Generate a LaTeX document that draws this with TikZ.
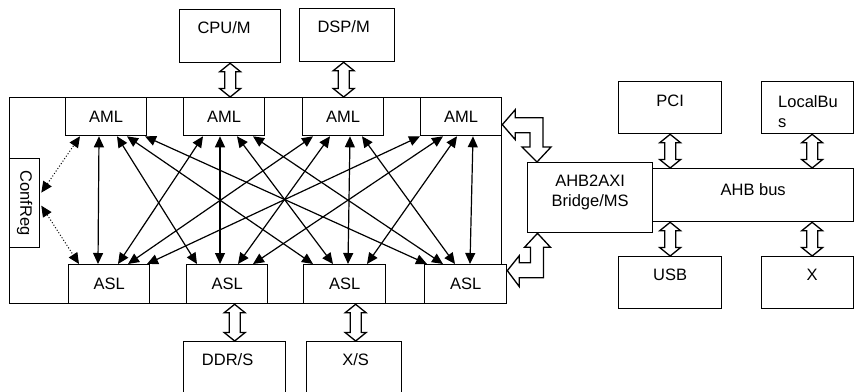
\documentclass[tikz,border=0pt]{standalone}
\usepackage{fontspec}
\setmainfont{Liberation Sans}
\usetikzlibrary{arrows.meta,calc}
\newcommand{\vfat}[2]{\draw[fatline] let \p1=(#1), \p2=(#2) in
  (\p1) -- (\x1+10.5pt,\y1-8.5pt) -- (\x1+5.5pt,\y1-8.5pt) -- (\x1+5.5pt,\y2+8.5pt)
  -- (\x1+10.5pt,\y2+8.5pt) -- (\x1,\y2) -- (\x1-10.5pt,\y2+8.5pt) -- (\x1-5.5pt,\y2+8.5pt)
  -- (\x1-5.5pt,\y1-8.5pt) -- (\x1-10.5pt,\y1-8.5pt) -- cycle;}
\begin{document}
\begin{tikzpicture}[x=1pt,y=-1pt,
  font=\fontsize{16.5}{20}\selectfont,
  box/.style={draw, line width=1.3pt, fill=white, inner sep=0pt, anchor=north west},
  lbl/.style={inner sep=0pt},
  tip/.tip={Triangle[length=11pt,width=10pt]},
  xarrow/.style={line width=1.2pt, tip-tip},
  dotarrow/.style={line width=1pt, dotted, tip-tip},
  fatline/.style={draw, line width=1.3pt, fill=white, line join=miter}]
\useasboundingbox (0,0) rectangle (854,391);
\clip (0,0) rectangle (854,391);

% outer frame
\node[box, minimum width=492, minimum height=206] (outer) at (9,97) {};

% masters / slaves
\node[box, minimum width=81, minimum height=38] (aml1) at (65,97) {AML};
\node[box, minimum width=81, minimum height=38] (aml2) at (183,97) {AML};
\node[box, minimum width=81, minimum height=38] (aml3) at (302,97) {AML};
\node[box, minimum width=81, minimum height=38] (aml4) at (420,97) {AML};
\node[box, minimum width=81, minimum height=39] (asl1) at (68,264) {ASL};
\node[box, minimum width=81, minimum height=39] (asl2) at (186,264) {ASL};
\node[box, minimum width=82, minimum height=39] (asl3) at (303,264) {ASL};
\node[box, minimum width=82, minimum height=39] (asl4) at (424,264) {ASL};

% ConfReg
\node[box, minimum width=30, minimum height=89] (confreg) at (9,158) {};
\node[lbl, rotate=-90] (confregl) at (confreg.center) {ConfReg};

% top / bottom devices
\node[box, minimum width=101, minimum height=53] (cpu) at (179,9) {};
\node[lbl] (cpul) at ($(cpu.north)+(-6,19)$) {CPU/M};
\node[box, minimum width=95, minimum height=53] (dsp) at (299,8) {};
\node[lbl] (dspl) at ($(dsp.north)+(-3.5,19)$) {DSP/M};
\node[box, minimum width=102, minimum height=70] (ddr) at (183,341) {};
\node[lbl] (ddrl) at ($(ddr.north)+(-7,19)$) {DDR/S};
\node[box, minimum width=95, minimum height=70] (xs) at (306,341) {};
\node[lbl] (xsl) at ($(xs.north)+(1.5,19)$) {X/S};

% right side
\node[box, minimum width=201, minimum height=53] (ahb) at (652,168) {};
\node[lbl] (ahbl) at ($(ahb.center)+(0,-6)$) {AHB bus};
\node[box, minimum width=125, minimum height=70] (bridge) at (527,162) {};
\node[lbl, align=center] (bridgel) at ($(bridge.center)+(0,-5)$) {AHB2AXI\\Bridge/MS};
\node[box, minimum width=103, minimum height=52] (pci) at (618,81) {};
\node[lbl] (pcil) at ($(pci.north)+(0,20)$) {PCI};
\node[box, minimum width=92, minimum height=52] (lb) at (761,81) {};
\node[lbl, align=left, anchor=north west] (lbl1) at ($(lb.north west)+(17,14.5)$) {LocalBu\\s};
\node[box, minimum width=103, minimum height=52] (usb) at (618,256) {};
\node[lbl] (usbl) at ($(usb.north)+(0,19)$) {USB};
\node[box, minimum width=92, minimum height=52] (xbox) at (761,256) {};
\node[lbl] (xboxl) at ($(xbox.north)+(4.5,19)$) {X};

% crossbar
\foreach \a/\ao/\s/\so in {1/34/1/30, 1/52/2/11, 1/62/3/10, 1/80/4/3,
                           2/20/1/50, 2/37/2/34, 2/54/3/30, 2/70/4/19,
                           3/11/1/60, 3/28/2/52, 3/48/3/45, 3/60/4/31,
                           4/0/1/79, 4/23/2/67, 4/37/3/64, 4/53/4/46}
  \draw[xarrow] ($(aml\a.south west)+(\ao,0)$) -- ($(asl\s.north west)+(\so,0)$);

% ConfReg dotted links
\draw[dotarrow] ($(confreg.east)+(1,-10.5)$) -- ($(aml1.south west)+(15,0)$);
\draw[dotarrow] ($(confreg.east)+(1,2.5)$) -- ($(asl1.north west)+(11,0)$);

% attachment points for fat arrows
\coordinate (dspa) at ($(dsp.south)+(-3.5,0)$);
\coordinate (xsa) at ($(xs.north)+(1.5,0)$);
\coordinate (lba) at ($(lb.south)+(4.5,0)$);
\coordinate (xboxa) at ($(xbox.north)+(4.5,0)$);

% fat straight arrows
\vfat{cpu.south}{cpu.south |- aml2.north}
\vfat{dspa}{dspa |- aml3.north}
\vfat{ddr.north |- asl2.south}{ddr.north}
\vfat{xsa |- asl3.south}{xsa}
\vfat{pci.south}{pci.south |- ahb.north}
\vfat{lba}{lba |- ahb.north}
\vfat{usb.north |- ahb.south}{usb.north}
\vfat{xboxa |- ahb.south}{xboxa}

% bent fat arrows
\draw[fatline] let \p1=($(aml4.east)+(0,8)$), \p2=($(bridge.north west)+(10,0)$) in
  (\p1) -- (\x1+13pt,\y1+15pt) -- (\x1+13pt,\y1+7pt) -- (\x2+6pt,\y1+7pt)
  -- (\x2+6pt,\y2+15pt) -- (\x2+14pt,\y2+15pt) -- (\p2) -- (\x2-15pt,\y2+15pt)
  -- (\x2-7pt,\y2+15pt) -- (\x2-7pt,\y1-8pt) -- (\x1+13pt,\y1-8pt) -- (\x1+13pt,\y1-15pt) -- cycle;
\draw[fatline] let \p1=($(bridge.south west)+(10.5,0)$), \p2=($(asl4.east)+(0,-13.5)$) in
  (\p1) -- (\x1+13pt,\y1-14pt) -- (\x1+6pt,\y1-14pt) -- (\x1+6pt,\y2-7pt)
  -- (\x2+12pt,\y2-7pt) -- (\x2+12pt,\y2-16pt) -- (\p2) -- (\x2+12pt,\y2+15pt)
  -- (\x2+12pt,\y2+8pt) -- (\x1-7pt,\y2+8pt) -- (\x1-7pt,\y1-14pt) -- (\x1-13pt,\y1-14pt) -- cycle;
\end{tikzpicture}
\end{document}
